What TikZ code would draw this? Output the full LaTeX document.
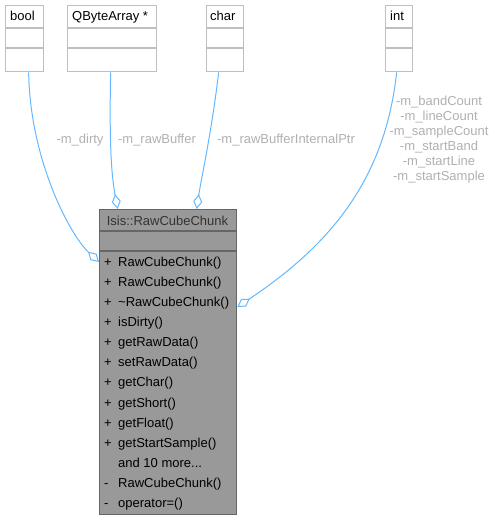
\documentclass[tikz,border=0pt]{standalone}
\usepackage{fontspec}
\setmainfont{Liberation Sans}
\usetikzlibrary{arrows.meta}
\definecolor{edgeblue}{HTML}{63B8FF}
\definecolor{lblgray}{HTML}{B0B0B0}
\definecolor{boxline}{HTML}{BFBFBF}
\definecolor{mainfill}{HTML}{999999}
\definecolor{mainline}{HTML}{666666}
\newcommand\myandmore{and 10 more...}
\begin{document}
\begin{tikzpicture}[x=1pt,y=-1pt,
  every node/.style={font=\fontsize{13}{15}\selectfont, inner sep=0pt},
  smallbox/.style={draw=boxline, line width=1.3pt, fill=white, anchor=north west, minimum height=66pt},
  mainbox/.style={draw=mainline, line width=1.3pt, fill=mainfill, anchor=north west},
  seprule/.style={draw=boxline, line width=1.3pt},
  mainrule/.style={draw=mainline, line width=1.3pt},
  member/.style={anchor=base west, text=black},
  lbl/.style={text=lblgray, align=center},
  agg/.style={draw=edgeblue, line width=1pt, -{Diamond[open, fill=white, length=15pt, width=9pt]}}
]
\useasboundingbox (0,0) rectangle (495,519);
% small type boxes
\node[smallbox, minimum width=38pt] (bool) at (5,5) {};
\node[smallbox, minimum width=89pt] (qba) at (67,5) {};
\node[smallbox, minimum width=37pt] (chr) at (206,5) {};
\node[smallbox, minimum width=27pt] (int) at (385,5) {};
\foreach \b in {bool,qba,chr,int}{
  \draw[seprule] ([yshift=-23pt]\b.north west) -- ([yshift=-23pt]\b.north east);
  \draw[seprule] ([yshift=-43pt]\b.north west) -- ([yshift=-43pt]\b.north east);
}
\node[anchor=base west] (tbool) at (10,21) {bool};
\node[anchor=base west] (tqba) at (72,21) {QByteArray *};
\node[anchor=base west] (tchr) at (210,21) {char};
\node[anchor=base west] (tint) at (390,21) {int};
% main class box
\node[mainbox, minimum width=137pt, minimum height=305pt] (main) at (99,209) {};
\draw[mainrule] ([yshift=-22pt]main.north west) -- ([yshift=-22pt]main.north east);
\draw[mainrule] ([yshift=-42pt]main.north west) -- ([yshift=-42pt]main.north east);
\node[anchor=base, text=black!80] (title) at (167.5,225) {Isis::RawCubeChunk};
\foreach \y/\v/\t in {266/+/RawCubeChunk(), 286/+/RawCubeChunk(), 306.5/+/\textasciitilde RawCubeChunk(),
  326.5/+/isDirty(), 346.5/+/getRawData(), 366.5/+/setRawData(), 386.5/+/getChar(),
  407/+/getShort(), 427/+/getFloat(), 447/+/getStartSample(), 467/ /\myandmore,
  487.5/-/RawCubeChunk(), 507.5/-/operator=()}{
  \node[member] at (104,\y) {\v};
  \node[member] at (118,\y) {\t};
}
% connectors
\draw[agg] ([xshift=4pt]bool.south) .. controls (30,160) and (70,235) .. ([yshift=-53pt]main.north west);
\draw[agg] ([xshift=-1.5pt]qba.south) .. controls (109,150) and (112,178) .. ([xshift=-50.5pt]main.north);
\draw[agg] ([xshift=-6.5pt]chr.south) .. controls (212,130) and (201,180) .. ([xshift=28.5pt]main.north);
\draw[agg] ([xshift=-2.5pt]int.south) .. controls (385,180) and (330,245) .. ([yshift=-98pt]main.north east);
% labels
\node[lbl] (ldirty) at (80,140) {-m\_dirty};
\node[lbl] (lraw) at (157,140) {-m\_rawBuffer};
\node[lbl] (lptr) at (286,140) {-m\_rawBufferInternalPtr};
\node[lbl] (lint) at (439,140) {-m\_bandCount\\-m\_lineCount\\-m\_sampleCount\\-m\_startBand\\-m\_startLine\\-m\_startSample};
\end{tikzpicture}
\end{document}
